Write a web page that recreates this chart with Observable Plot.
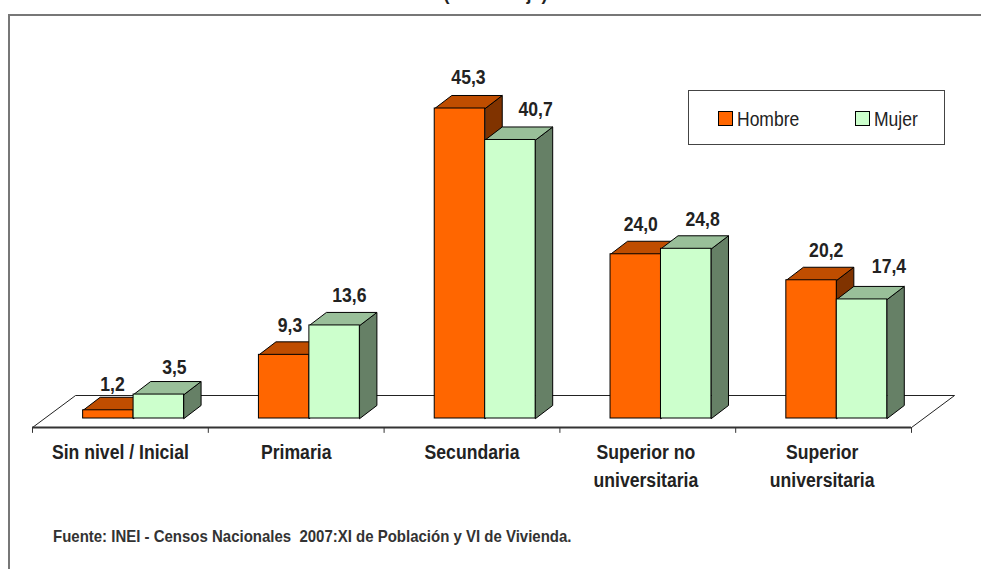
<!DOCTYPE html>
<html lang="es">
<head>
<meta charset="utf-8">
<script src="https://cdn.jsdelivr.net/npm/d3@7"></script>
<script src="https://cdn.jsdelivr.net/npm/@observablehq/plot@0.6"></script>
<style>
html,body{margin:0;padding:0;background:#fff;overflow:hidden;width:981px;height:569px}
body{position:relative;font-family:"Liberation Sans",Arial,sans-serif;color:#222}
#frame{position:absolute;left:8px;top:14px;width:1000px;height:600px;border:2px solid #777;border-right:none;border-bottom:none;box-sizing:border-box}
#chart{position:absolute;left:0;top:0}
#chart svg{display:block;background:transparent}
#title{position:absolute;left:0;width:991px;top:-16px;text-align:center;font-weight:bold;font-size:18px;line-height:20px}
#legend{position:absolute;left:688px;top:90px;width:257px;height:55px;border:1px solid #444;box-sizing:border-box;background:#fff;font-size:20px}
#legend i{position:absolute;top:20px;width:13px;height:13px;border:1px solid #000;box-sizing:content-box}
#legend span{position:absolute;top:16px;line-height:24px;transform:scaleX(.875);transform-origin:0 50%}
#caption{position:absolute;left:53px;top:526px;font-weight:bold;font-size:16.5px;line-height:20px;color:#333;white-space:pre;transform:scaleX(.908);transform-origin:0 50%}
</style>
</head>
<body>
<div id="frame"></div>
<div id="title">(Porcentaje)</div>
<div id="chart"></div>
<div id="legend">
  <i style="left:29px;background:#FF6600"></i><span style="left:48px">Hombre</span>
  <i style="left:166px;background:#CCFFCC"></i><span style="left:185px">Mujer</span>
</div>
<div id="caption">Fuente: INEI - Censos Nacionales  2007:XI de Población y VI de Vivienda.</div>
<script>
const categories = ["Sin nivel / Inicial", "Primaria", "Secundaria", "Superior no\nuniversitaria", "Superior\nuniversitaria"];
const hombre = [1.2, 9.3, 45.3, 24.0, 20.2];
const mujer = [3.5, 13.6, 40.7, 24.8, 17.4];
const fmt = v => v.toFixed(1).replace(".", ",");

// chart geometry, in scale units
const barW = 0.287, groupCenter = 0.575, depthX = 0.097, depthY = 1.9;
const floorY = -1.32, floorBack = 3.36, floorDX = 0.245;
// hand-placed label nudges of the original (x in category units, y in value units)
const nudgeHombre = [[-0.025, -0.2], [-0.015, 0.2], [0, 0.45], [-0.02, 0.3], [0.035, 0.3]];
const nudgeMujer = [[0.04, 0], [0.035, 0.4], [0.095, 0.45], [0.045, 0.2], [0.105, 0.8]];
const nudgeCategory = [0, 0, 0, -0.011, -0.008];

function bars(values, offset) {
  return values.map((v, i) => {
    const x1 = i + groupCenter + offset, x2 = x1 + barW;
    return {i, v, x1, x2,
      top: [[x1, v], [x1 + depthX, v + depthY], [x2 + depthX, v + depthY], [x2, v]],
      side: [[x2, 0], [x2 + depthX, depthY], [x2 + depthX, v + depthY], [x2, v]]};
  });
}
const faces = (rows, key) => rows.flatMap(r => r[key].map(([x, y]) => ({x, y, z: r.i})));
const face = (rows, key, fill) => Plot.line(faces(rows, key), {x: "x", y: "y", z: "z", fill, stroke: "#000", strokeWidth: 1, curve: "linear-closed"});
const front = (rows, fill) => Plot.rect(rows, {x1: "x1", x2: "x2", y1: 0, y2: "v", fill, stroke: "#000", strokeWidth: 1});
const series = (rows, cTop, cSide, cFront) => [face(rows, "side", cSide), face(rows, "top", cTop), front(rows, cFront)];
const valueLabels = (rows, nudges) => Plot.text(rows, {
  x: d => d.x1 + barW / 2 + depthX / 2 + nudges[d.i][0],
  y: d => d.v + depthY + nudges[d.i][1],
  text: d => fmt(d.v), dy: -8, lineAnchor: "bottom", textAnchor: "middle",
  fontSize: 20, fontWeight: "bold", fill: "#222"
});

const H = bars(hombre, -barW), M = bars(mujer, 0);
const edges = categories.map((_, i) => i).concat(categories.length);
const floor = [[0, floorY], [floorDX, floorBack], [5 + floorDX, floorBack], [5, floorY]].map(([x, y]) => ({x, y}));

const plot = Plot.plot({
  width: 981, height: 569,
  margin: 0,
  style: {fontFamily: '"Liberation Sans",Arial,sans-serif', background: "transparent"},
  x: {domain: [0, 5], range: [32, 911], axis: null},
  y: {domain: [0, 45.3], range: [418, 108], axis: null},
  marks: [
    Plot.line(floor, {x: "x", y: "y", stroke: "#222", strokeWidth: 1}),
    Plot.ruleY([floorY], {x1: 0, x2: 5, stroke: "#333", strokeWidth: 2}),
    Plot.ruleX(edges, {y1: floorY, y2: floorY - 0.85, stroke: "#333", strokeWidth: 1}),
    ...series(H, "#BF4D00", "#803300", "#FF6600"),
    ...series(M, "#99BF99", "#668066", "#CCFFCC"),
    valueLabels(H, nudgeHombre),
    valueLabels(M, nudgeMujer),
    Plot.text(categories, {
      x: (d, i) => i + 0.5 + nudgeCategory[i], y: floorY - 1.75, text: d => d,
      lineAnchor: "top", textAnchor: "middle", lineHeight: 1.4,
      fontSize: 20, fontWeight: "bold", fill: "#222"
    })
  ]
});
document.getElementById("chart").append(plot);

// The original uses a narrow face: condense the glyphs of the chart's texts.
const squeeze = 0.88;
plot.querySelectorAll("text").forEach(t => {
  const parts = t.querySelectorAll("tspan");
  (parts.length ? parts : [t]).forEach(el => {
    el.setAttribute("textLength", el.getComputedTextLength() * squeeze);
    el.setAttribute("lengthAdjust", "spacingAndGlyphs");
  });
});
</script>
</body>
</html>
